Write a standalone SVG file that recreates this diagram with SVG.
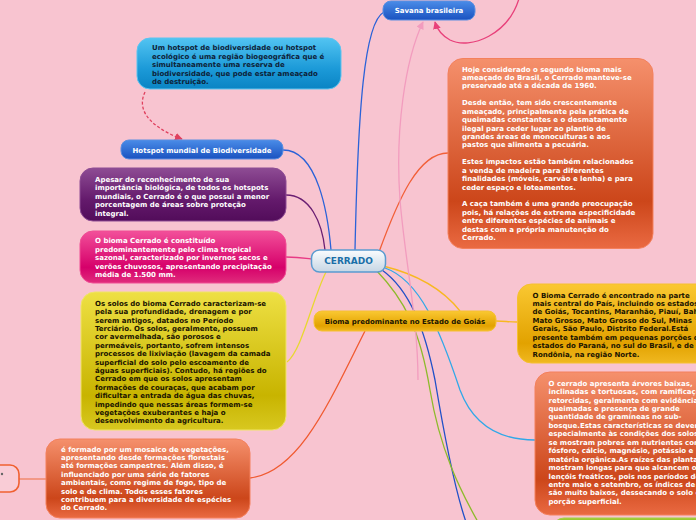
<svg xmlns="http://www.w3.org/2000/svg" width="696" height="520" viewBox="0 0 696 520">
<defs>
<linearGradient id="gBlue" x1="0" y1="0" x2="0" y2="1"><stop offset="0" stop-color="#4A8CE8"/><stop offset="1" stop-color="#1A52C0"/></linearGradient>
<linearGradient id="gSky" x1="0" y1="0" x2="0" y2="1"><stop offset="0" stop-color="#52C4F2"/><stop offset="0.6" stop-color="#1C9AD8"/><stop offset="1" stop-color="#0A84C4"/></linearGradient>
<linearGradient id="gPurple" x1="0" y1="0" x2="0" y2="1"><stop offset="0" stop-color="#8E4C94"/><stop offset="0.6" stop-color="#641A6C"/><stop offset="1" stop-color="#520C5A"/></linearGradient>
<linearGradient id="gPink" x1="0" y1="0" x2="0" y2="1"><stop offset="0" stop-color="#F2509A"/><stop offset="0.7" stop-color="#D6006A"/><stop offset="1" stop-color="#E02C7C"/></linearGradient>
<linearGradient id="gYellow" x1="0" y1="0" x2="0" y2="1"><stop offset="0" stop-color="#EEE044"/><stop offset="0.75" stop-color="#C8B400"/><stop offset="1" stop-color="#D8C820"/></linearGradient>
<linearGradient id="gOrange" x1="0" y1="0" x2="0" y2="1"><stop offset="0" stop-color="#F5906C"/><stop offset="0.75" stop-color="#CC461A"/><stop offset="1" stop-color="#EA6A42"/></linearGradient>
<linearGradient id="gGold" x1="0" y1="0" x2="0" y2="1"><stop offset="0" stop-color="#FAC832"/><stop offset="0.75" stop-color="#E2A200"/><stop offset="1" stop-color="#F0B820"/></linearGradient>
<linearGradient id="gCenter" x1="0" y1="0" x2="0" y2="1"><stop offset="0" stop-color="#FAFCFE"/><stop offset="1" stop-color="#C6D6E4"/></linearGradient>
<linearGradient id="gGreen" x1="0" y1="0" x2="0" y2="1"><stop offset="0" stop-color="#9CCB34"/><stop offset="1" stop-color="#7AAA1A"/></linearGradient>
<marker id="arrRed" viewBox="0 0 10 10" refX="9" refY="5" markerWidth="6" markerHeight="6" orient="auto"><path d="M0,0 L10,5 L0,10 z" fill="#E0405E"/></marker>
<marker id="arrPink" viewBox="0 0 10 10" refX="9" refY="5" markerWidth="6" markerHeight="6" orient="auto"><path d="M0,0 L10,5 L0,10 z" fill="#F29CBE"/></marker>
<marker id="arrRose" viewBox="0 0 10 10" refX="9" refY="5" markerWidth="6" markerHeight="6" orient="auto"><path d="M0,0 L10,5 L0,10 z" fill="#E8407A"/></marker>
</defs>
<style>
.t{font-family:"DejaVu Sans",Verdana,sans-serif;font-weight:bold;font-size:7px}
.w{fill:#FFFFFF}
.k{fill:#1A1400}
.n{fill:#0E2238}
.c{fill:none;stroke-width:1.3}
</style>
<rect x="0" y="0" width="696" height="520" fill="#F8C4D0"/>

<g id="connectors">
<path class="c" d="M355,250 C358,110 364,22 384,12" stroke="#2A62D8"/>
<path class="c" d="M283,150 C318,150 328,215 331,250" stroke="#2A62D8"/>
<path class="c" d="M286,195 C310,195 322,222 325,250" stroke="#6A1E72"/>
<path class="c" d="M286,257 C298,257 304,258 312,259" stroke="#E83A85"/>
<path class="c" d="M326,272 C312,300 302,350 287,362" stroke="#E8D830"/>
<path class="c" d="M250,478 C300,472 330,400 365,331" stroke="#F05A30"/>
<path class="c" d="M379,252 C398,200 418,153 448,153" stroke="#F26038"/>
<path class="c" d="M383,266 C420,275 445,292 460,311" stroke="#F8B820"/>
<path class="c" d="M496,321 C505,321 508,322 517,322" stroke="#F8B820"/>
<path class="c" d="M385,268 C420,280 440,330 460,390 C475,430 505,440 535,440" stroke="#30A8E8"/>
<path class="c" d="M382,270 C410,290 425,330 435,380 C445,440 455,490 466,522" stroke="#2050C8"/>
<path class="c" d="M376,270 C405,300 420,330 430,390 C440,450 460,490 478,522" stroke="#8DBA2A"/>
<path class="c" d="M19,479 L46,479" stroke="#F08060"/>
<path class="c" d="M418,380 C418,320 405,260 400,200 C395,130 405,60 423,22" stroke="#F29CBE" marker-end="url(#arrPink)"/>
<path class="c" d="M520,-5 C510,35 470,50 450,40 C441,35 437,29 435,22" stroke="#E8407A" marker-end="url(#arrRose)"/>
<path class="c" d="M145,92 C134,115 160,131 182,139" stroke="#E0405E" stroke-dasharray="3,2" marker-end="url(#arrRed)"/>
</g>

<g id="savana">
<rect x="383" y="1" width="92" height="19" rx="8" fill="url(#gBlue)" stroke="#5A8EE0" stroke-width="1"/>
<text class="t w" x="429" y="12.8" text-anchor="middle">Savana brasileira</text>
</g>

<g id="hotspot-def">
<rect x="137" y="38" width="204" height="51" rx="13" fill="url(#gSky)" stroke="#5CC4F0" stroke-width="1"/>
<text class="t n" x="152" y="50.3"><tspan x="152">Um hotspot de biodiversidade ou hotspot</tspan><tspan x="152" dy="8.4">ecológico é uma região biogeográfica que é</tspan><tspan x="152" dy="8.4">simultaneamente uma reserva de</tspan><tspan x="152" dy="8.4">biodiversidade, que pode estar ameaçado</tspan><tspan x="152" dy="8.4">de destruição.</tspan></text>
</g>

<g id="hotspot-mundial">
<rect x="121" y="140" width="162" height="19" rx="8" fill="url(#gBlue)" stroke="#5A8EE0" stroke-width="1"/>
<text class="t w" x="202" y="152.8" text-anchor="middle">Hotspot mundial de Biodiversidade</text>
</g>

<g id="purple">
<rect x="80" y="168" width="206" height="53" rx="13" fill="url(#gPurple)" stroke="#8E4C94" stroke-width="1"/>
<text class="t w" x="95" y="181.9"><tspan x="95">Apesar do reconhecimento de sua</tspan><tspan x="95" dy="8.4">importância biológica, de todos os hotspots</tspan><tspan x="95" dy="8.4">mundiais, o Cerrado é o que possui a menor</tspan><tspan x="95" dy="8.4">porcentagem de áreas sobre proteção</tspan><tspan x="95" dy="8.4">integral.</tspan></text>
</g>

<g id="pink">
<rect x="80" y="231" width="206" height="52" rx="13" fill="url(#gPink)" stroke="#F04C94" stroke-width="1"/>
<text class="t w" x="95" y="243.3"><tspan x="95">O bioma Cerrado é constituído</tspan><tspan x="95" dy="8.4">predominantemente pelo clima tropical</tspan><tspan x="95" dy="8.4">sazonal, caracterizado por invernos secos e</tspan><tspan x="95" dy="8.4">verões chuvosos, apresentando precipitação</tspan><tspan x="95" dy="8.4">média de 1.500 mm.</tspan></text>
</g>

<g id="yellow">
<rect x="81" y="292" width="205" height="138" rx="14" fill="url(#gYellow)" stroke="#F0E468" stroke-width="1"/>
<text class="t k" x="95" y="305.9"><tspan x="95">Os solos do bioma Cerrado caracterizam-se</tspan><tspan x="95" dy="8.39">pela sua profundidade, drenagem e por</tspan><tspan x="95" dy="8.39">serem antigos, datados no Período</tspan><tspan x="95" dy="8.39">Terciário. Os solos, geralmente, possuem</tspan><tspan x="95" dy="8.39">cor avermelhada, são porosos e</tspan><tspan x="95" dy="8.39">permeáveis, portanto, sofrem intensos</tspan><tspan x="95" dy="8.39">processos de lixiviação (lavagem da camada</tspan><tspan x="95" dy="8.39">superficial do solo pelo escoamento de</tspan><tspan x="95" dy="8.39">águas superficiais). Contudo, há regiões do</tspan><tspan x="95" dy="8.39">Cerrado em que os solos apresentam</tspan><tspan x="95" dy="8.39">formações de couraças, que acabam por</tspan><tspan x="95" dy="8.39">dificultar a entrada de água das chuvas,</tspan><tspan x="95" dy="8.39">impedindo que nessas áreas formem-se</tspan><tspan x="95" dy="8.39">vegetações exuberantes e haja o</tspan><tspan x="95" dy="8.39">desenvolvimento da agricultura.</tspan></text>
</g>

<g id="left-partial">
<rect x="-20" y="465" width="39" height="27" rx="9" fill="#F9CCD6" stroke="#F06030" stroke-width="1.6"/>
<circle cx="2" cy="474" r="1.2" fill="#666"/>
</g>

<g id="mosaico">
<rect x="46" y="439" width="204" height="79" rx="14" fill="url(#gOrange)" stroke="#F4805C" stroke-width="1"/>
<text class="t w" x="61" y="451.6"><tspan x="61">é formado por um mosaico de vegetações,</tspan><tspan x="61" dy="8.4">apresentando desde formações florestais</tspan><tspan x="61" dy="8.4">até formações campestres. Além disso, é</tspan><tspan x="61" dy="8.4">influenciado por uma série de fatores</tspan><tspan x="61" dy="8.4">ambientais, como regime de fogo, tipo de</tspan><tspan x="61" dy="8.4">solo e de clima. Todos esses fatores</tspan><tspan x="61" dy="8.4">contribuem para a diversidade de espécies</tspan><tspan x="61" dy="8.4">do Cerrado.</tspan></text>
</g>

<g id="cerrado">
<rect x="311.5" y="250" width="74" height="22" rx="8" fill="url(#gCenter)" stroke="#5A9BD0" stroke-width="1.5"/>
<text x="348.5" y="264.3" text-anchor="middle" style="font-family:'DejaVu Sans',Verdana,sans-serif;font-weight:bold;font-size:9px" fill="#1A6FA8">CERRADO</text>
</g>

<g id="bioma">
<rect x="314" y="311" width="182" height="20" rx="8" fill="url(#gGold)" stroke="#F6C030" stroke-width="1"/>
<text class="t k" x="405" y="323.6" text-anchor="middle">Bioma predominante no Estado de Goiás</text>
</g>

<g id="ameacas">
<rect x="448" y="58.5" width="205" height="190" rx="15" fill="url(#gOrange)" stroke="#F4805C" stroke-width="1"/>
<text class="t w" x="462" y="71.6"><tspan x="462">Hoje considerado o segundo bioma mais</tspan><tspan x="462" dy="8.43">ameaçado do Brasil, o Cerrado manteve-se</tspan><tspan x="462" dy="8.43">preservado até a década de 1960.</tspan><tspan x="462" dy="16.86">Desde então, tem sido crescentemente</tspan><tspan x="462" dy="8.43">ameaçado, principalmente pela prática de</tspan><tspan x="462" dy="8.43">queimadas constantes e o desmatamento</tspan><tspan x="462" dy="8.43">ilegal para ceder lugar ao plantio de</tspan><tspan x="462" dy="8.43">grandes áreas de monoculturas e aos</tspan><tspan x="462" dy="8.43">pastos que alimenta a pecuária.</tspan><tspan x="462" dy="16.86">Estes impactos estão também relacionados</tspan><tspan x="462" dy="8.43">a venda de madeira para diferentes</tspan><tspan x="462" dy="8.43">finalidades (móveis, carvão e lenha) e para</tspan><tspan x="462" dy="8.43">ceder espaço e loteamentos.</tspan><tspan x="462" dy="16.86">A caça também é uma grande preocupação</tspan><tspan x="462" dy="8.43">pois, há relações de extrema especificidade</tspan><tspan x="462" dy="8.43">entre diferentes espécies de animais e</tspan><tspan x="462" dy="8.43">destas com a própria manutenção do</tspan><tspan x="462" dy="8.43">Cerrado.</tspan></text>
</g>

<g id="localizacao">
<rect x="517.5" y="284" width="210" height="79" rx="14" fill="url(#gGold)" stroke="#F6C030" stroke-width="1"/>
<text class="t k" x="532.5" y="297.6"><tspan x="532.5">O Bioma Cerrado é encontrado na parte</tspan><tspan x="532.5" dy="8.43">mais central do País, incluindo os estados</tspan><tspan x="532.5" dy="8.43">de Goiás, Tocantins, Maranhão, Piauí, Bahia,</tspan><tspan x="532.5" dy="8.43">Mato Grosso, Mato Grosso do Sul, Minas</tspan><tspan x="532.5" dy="8.43">Gerais, São Paulo, Distrito Federal.Está</tspan><tspan x="532.5" dy="8.43">presente também em pequenas porções dos</tspan><tspan x="532.5" dy="8.43">estados do Paraná, no sul do Brasil, e de</tspan><tspan x="532.5" dy="8.43">Rondônia, na região Norte.</tspan></text>
</g>

<g id="vegetacao">
<rect x="535" y="372" width="210" height="143" rx="15" fill="url(#gOrange)" stroke="#F4805C" stroke-width="1"/>
<text class="t w" x="548.5" y="385.6"><tspan x="548.5">O cerrado apresenta árvores baixas,</tspan><tspan x="548.5" dy="8.45">inclinadas e tortuosas, com ramificações</tspan><tspan x="548.5" dy="8.45">retorcidas, geralmente com evidências</tspan><tspan x="548.5" dy="8.45">queimadas e presença de grande</tspan><tspan x="548.5" dy="8.45">quantidade de gramíneas no sub-</tspan><tspan x="548.5" dy="8.45">bosque.Estas características se devem</tspan><tspan x="548.5" dy="8.45">especialmente às condições dos solos</tspan><tspan x="548.5" dy="8.45">se mostram pobres em nutrientes como</tspan><tspan x="548.5" dy="8.45">fósforo, cálcio, magnésio, potássio e</tspan><tspan x="548.5" dy="8.45">matéria orgânica.As raízes das plantas</tspan><tspan x="548.5" dy="8.45">mostram longas para que alcancem os</tspan><tspan x="548.5" dy="8.45">lençóis freáticos, pois nos períodos de</tspan><tspan x="548.5" dy="8.45">entre maio e setembro, os índices de</tspan><tspan x="548.5" dy="8.45">são muito baixos, dessecando o solo em</tspan><tspan x="548.5" dy="8.45">porção superficial.</tspan></text>
</g>

<g id="green-partial">
<rect x="552" y="518" width="200" height="30" rx="12" fill="url(#gGreen)" stroke="#A8D048" stroke-width="1"/>
</g>
</svg>
